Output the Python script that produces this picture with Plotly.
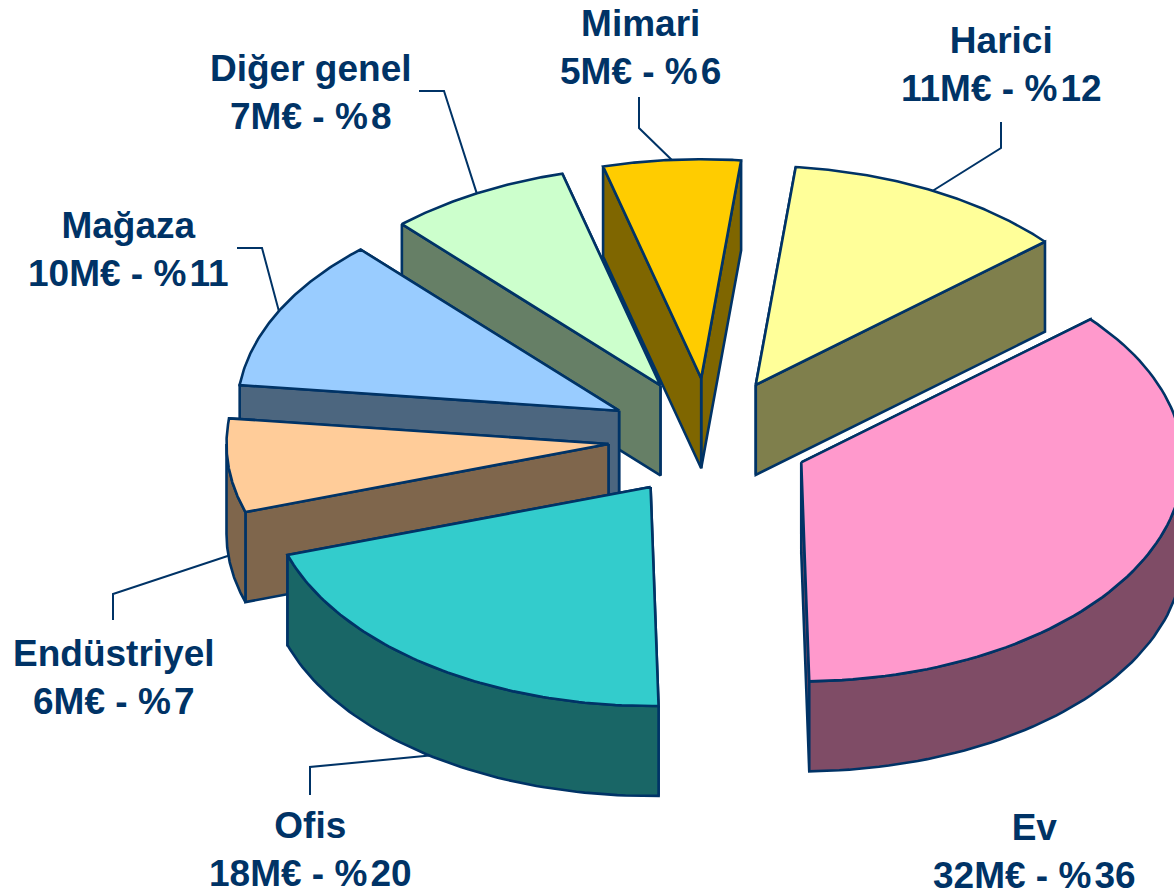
import numpy as np
import plotly.graph_objects as go

categories = ["Harici", "Ev", "Ofis", "Endüstriyel", "Mağaza", "Diğer genel", "Mimari"]
values_meur = [11, 32, 18, 6, 10, 7, 5]
percent_labels = [12, 36, 20, 7, 11, 8, 6]
# unrounded shares
slice_shares = [12.0, 36.0, 20.3, 6.9, 11.3, 7.7, 5.8]
top_colors = ["#FFFF99", "#FF99CC", "#33CCCC", "#FFCC99", "#99CCFF", "#CCFFCC", "#FFCC00"]
draw_order = ["Mimari", "Diğer genel", "Harici", "Mağaza", "Endüstriyel", "Ev", "Ofis"]

# label placement (centre of the two-line text) and leader elbows, in page pixels
label_pos = {"Harici": (1001, 64), "Ev": (1034, 851), "Ofis": (310, 849), "Endüstriyel": (114, 677),
             "Mağaza": (128, 249), "Diğer genel": (311, 92), "Mimari": (640, 47)}
leader_path = {"Harici": [(1001, 122), (1001, 148)], "Ofis": [(310, 795), (310, 767)],
               "Endüstriyel": [(113, 620), (113, 594)], "Mağaza": [(237, 248), (262, 248)],
               "Diğer genel": [(419, 91), (444, 91)], "Mimari": [(639, 97), (639, 128)]}

CX, CY, RX, RY, DEPTH, PULL_X, PULL_Y, START = 709, 438, 382, 219, 90, 101, 60, 6.0
LINE = "#003366"
W, H = 1174, 895


def shade(c, k=0.5):
    return "#" + "".join(f"{int(int(c[i:i+2], 16) * k):02X}" for i in (1, 3, 5))


def pt(deg, ox, oy, r=1.0, dz=0.0):
    t = np.radians(deg)
    return ox + RX * r * np.sin(t), oy - RY * r * np.cos(t) + dz


fig = go.Figure()


def poly(xs, ys, fill):
    fig.add_trace(go.Scatter(x=list(xs) + [xs[0]], y=list(ys) + [ys[0]], mode="lines", fill="toself",
                             fillcolor=fill, line=dict(color=LINE, width=2.6), hoverinfo="skip",
                             showlegend=False))


total = sum(slice_shares)
spans = {}
a = START
for name, v in zip(categories, slice_shares):
    spans[name] = (a, a + 360 * v / total)
    a += 360 * v / total

anchors = {}
for name in draw_order:
    i = categories.index(name)
    a0, a1 = spans[name]
    mid = (a0 + a1) / 2
    t = np.radians(mid)
    ox, oy = CX + PULL_X * np.sin(t), CY - PULL_Y * np.cos(t)
    top, side = top_colors[i], shade(top_colors[i])
    # radial walls: the wall whose rim end is nearer the viewer goes on top
    for edge in sorted((a0, a1), key=lambda e: pt(e, ox, oy)[1]):
        ex, ey = pt(edge, ox, oy)
        poly([ox, ex, ex, ox], [oy, ey, ey + DEPTH, oy + DEPTH], side)
    # outer wall: only the part of the rim that faces the viewer
    lo, hi = max(a0, 90), min(a1, 270)
    if hi > lo:
        arc = np.linspace(lo, hi, 60)
        x, y = pt(arc, ox, oy)
        poly(list(x) + list(x[::-1]), list(y) + list(y[::-1] + DEPTH), side)
    arc = np.linspace(a0, a1, 80)
    x, y = pt(arc, ox, oy)
    poly([ox] + list(x), [oy] + list(y), top)
    front = 90 < mid % 360 < 270
    anchors[name] = pt(mid, ox, oy, dz=DEPTH if front else 0)

for name, path in leader_path.items():
    pts = path + [anchors[name]]
    fig.add_trace(go.Scatter(x=[p[0] for p in pts], y=[p[1] for p in pts], mode="lines",
                             line=dict(color=LINE, width=2), hoverinfo="skip", showlegend=False))

for name, v, p in zip(categories, values_meur, percent_labels):
    lx, ly = label_pos[name]
    fig.add_annotation(x=lx, y=ly, xref="x", yref="y", showarrow=False, align="center",
                       text=f"<b>{name}<br>{v}M€ - %\u200a{p}</b>",
                       font=dict(family="Liberation Sans", size=37, color=LINE))

fig.update_layout(width=W, height=H, margin=dict(l=0, r=0, t=0, b=0), paper_bgcolor="white",
                  plot_bgcolor="white", showlegend=False,
                  xaxis=dict(range=[0, W], visible=False, fixedrange=True),
                  yaxis=dict(range=[H, 0], visible=False, fixedrange=True))
fig.write_html("out.html", config={"displayModeBar": False},
               post_script="document.body.style.margin='0';document.body.style.overflow='hidden';")
